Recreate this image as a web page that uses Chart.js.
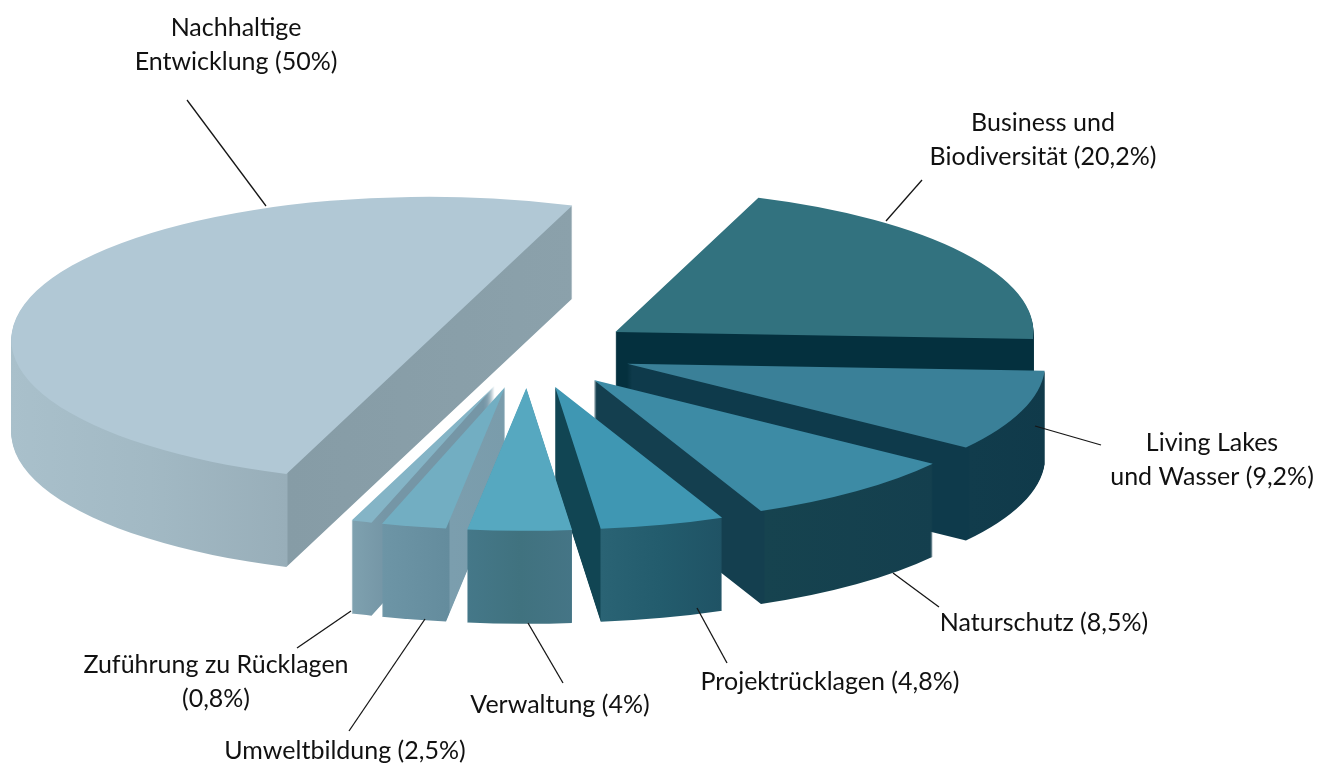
<!DOCTYPE html>
<html lang="de">
<head>
<meta charset="utf-8">
<title>Mittelverwendung</title>
<script src="https://cdn.jsdelivr.net/npm/chart.js@4/dist/chart.umd.min.js"></script>
<style>
    html, body { margin: 0; padding: 0; background: #fff; }
    #wrap { position: relative; width: 1328px; height: 765px; overflow: hidden; }
    canvas { display: block; }
</style>
</head>
<body>
<div id="wrap"><canvas id="pie" width="1328" height="765"></canvas></div>
<script>
// ========================================
// DATA
// ========================================

const categories = [
    'Business und Biodiversität',
    'Living Lakes und Wasser',
    'Naturschutz',
    'Projektrücklagen',
    'Verwaltung',
    'Umweltbildung',
    'Zuführung zu Rücklagen',
    'Nachhaltige Entwicklung'
];
const shares = [20.2, 9.2, 8.5, 4.8, 4, 2.5, 0.8, 50];
const labelLines = [
    ['Business und', 'Biodiversität (20,2%)'],
    ['Living Lakes', 'und Wasser (9,2%)'],
    ['Naturschutz (8,5%)'],
    ['Projektrücklagen (4,8%)'],
    ['Verwaltung (4%)'],
    ['Umweltbildung (2,5%)'],
    ['Zuführung zu Rücklagen', '(0,8%)'],
    ['Nachhaltige', 'Entwicklung (50%)']
];

// ========================================
// STYLE
// ========================================

const topColors = ['#32727f', '#3a8098', '#3d8ba5', '#3f97b3', '#56a8c0', '#72aec2', '#84b4c6', '#b1c8d5'];

// wall shading, left to right across the page: [x, colour]
const wallStops = [
    [[617, '#04303e'], [1041, '#04303e']],
    [[627, '#0e3a4b'], [969, '#0e3a4b'], [970, '#113c4c'], [1050, '#103a4a']],
    [[595, '#143f4f'], [764, '#143f4f'], [765, '#16434f'], [936, '#143f4e']],
    [[556, '#114553'], [600, '#114553'], [601, '#2a6374'], [660, '#235c6d'], [728, '#1f5264']],
    [[466, '#457889'], [520, '#40727f'], [574, '#457586']],
    [[382, '#6d95a6'], [449, '#648c9d'], [450, '#7b9eae'], [506, '#7a9cab']],
    [[350, '#7fa2b0'], [384, '#7596a6']],
    [[10, '#a9c0cb'], [150, '#a2b9c4'], [287, '#98aeb9'], [288, '#869ca6'], [575, '#8ba1ab']]
];

// back to front
const drawOrder = [7, 0, 1, 2, 3, 6, 5, 4];

const pieX = 528;
const pieY = 352;
const pieRadius = 418;
const squash = 0.342;
const explode = 105;
const depth = 93;

const labelFont = '25px Lato';
const labelLineHeight = 34;
// [center x, first baseline]
const labelAnchors = [
    [1043, 131], [1212, 451], [1044, 631], [830, 690],
    [560, 713], [345, 759], [216, 673], [236, 36]
];
// [x1, y1, x2, y2] leader lines
const leaders = [
    [886, 221, 922, 180], [1035, 426, 1101, 445], [893, 573, 939, 607], [697, 608, 727, 663],
    [528, 623, 563, 683], [425, 619, 349, 731], [351, 611, 297, 648], [266, 206, 187, 100]
];

// ========================================
// 3D PIE PLUGIN
// ========================================

const drawSlice = (chart, arc, index) => {
    const { ctx } = chart;
    const mid = (arc.startAngle + arc.endAngle) / 2;
    const shiftX = pieX + Math.cos(mid) * explode;
    const shiftY = pieY + Math.sin(mid) * explode * squash;
    const saved = arc.options;

    // wall gradient is given in page x, the transform only moves it
    const stops = wallStops[index];
    const first = stops[0][0];
    const span = stops.at(-1)[0] - first;
    const wall = chart.ctx.createLinearGradient(first - shiftX + arc.x, 0, first + span - shiftX + arc.x, 0);
    stops.forEach(([x, color]) => wall.addColorStop((x - first) / span, color));

    for (let d = depth; d >= 0; d--) {
        ctx.save();
        ctx.translate(shiftX, shiftY + d);
        ctx.scale(1, squash);
        ctx.translate(-arc.x, -arc.y);
        arc.options = { ...saved, backgroundColor: d === 0 ? topColors[index] : wall };
        arc.draw(ctx);
        ctx.restore();
    }
    arc.options = saved;
};

const pie3d = {
    id: 'pie3d',
    beforeDatasetsDraw(chart) {
        const arcs = chart.getDatasetMeta(0).data;
        drawOrder.forEach(i => drawSlice(chart, arcs[i], i));
        return false;
    },
    afterDraw(chart) {
        const { ctx } = chart;
        ctx.save();
        ctx.strokeStyle = '#161616';
        ctx.lineWidth = 1.3;
        leaders.forEach(([x1, y1, x2, y2]) => {
            ctx.beginPath();
            ctx.moveTo(x1, y1);
            ctx.lineTo(x2, y2);
            ctx.stroke();
        });
        ctx.fillStyle = '#111';
        ctx.font = labelFont;
        ctx.textAlign = 'center';
        labelLines.forEach((lines, i) => {
            lines.forEach((line, n) => {
                ctx.fillText(line, labelAnchors[i][0], labelAnchors[i][1] + n * labelLineHeight);
            });
        });
        ctx.restore();
    }
};

// ========================================
// CHART
// ========================================

new Chart(document.getElementById('pie'), {
    type: 'pie',
    data: {
        labels: categories,
        datasets: [{ data: shares, backgroundColor: topColors, borderWidth: 0 }]
    },
    options: {
        responsive: false,
        animation: false,
        events: [],
        rotation: 20,
        radius: pieRadius,
        plugins: { legend: { display: false }, tooltip: { enabled: false } }
    },
    plugins: [pie3d]
});
</script>
</body>
</html>
